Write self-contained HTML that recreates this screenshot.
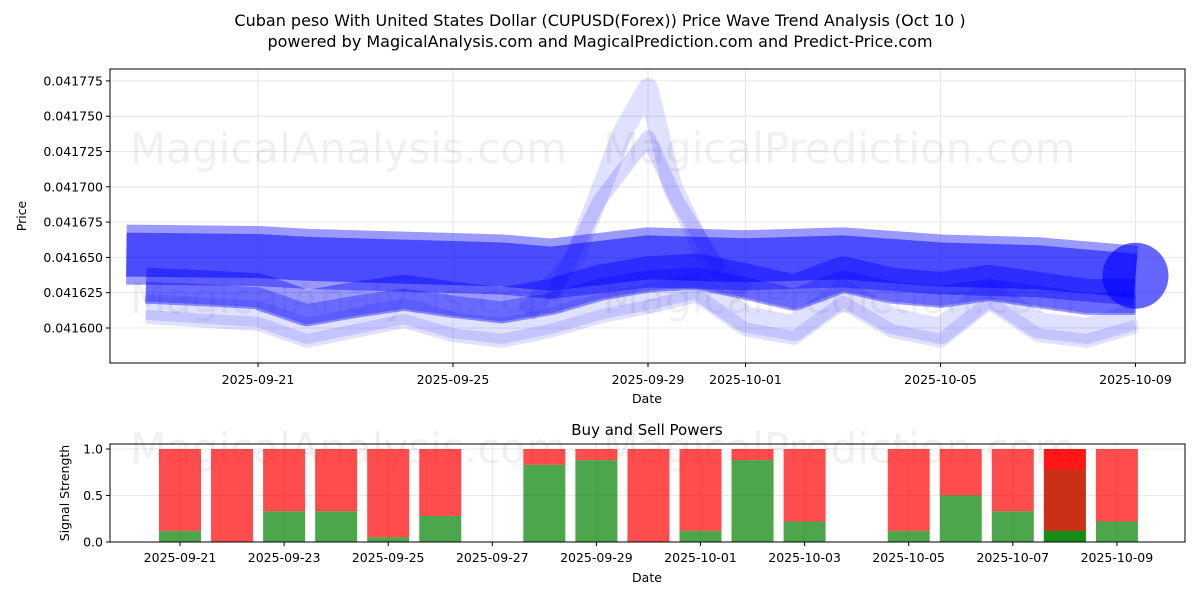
<!DOCTYPE html>
<html><head><meta charset="utf-8"><style>
body{margin:0;background:#fff;}
svg text{font-family:"DejaVu Sans","Liberation Sans",sans-serif;}
</style></head><body>
<svg id="c" width="1200" height="600" xmlns="http://www.w3.org/2000/svg">
<rect width="1200" height="600" fill="#fff"/>
<text x="600" y="26" font-size="16" text-anchor="middle">Cuban peso With United States Dollar (CUPUSD(Forex)) Price Wave Trend Analysis (Oct 10 )</text>
<text x="600" y="47" font-size="16" text-anchor="middle">powered by MagicalAnalysis.com and MagicalPrediction.com and Predict-Price.com</text>
<g id="top"></g>
<g id="bot"></g>
</svg>
<script>
const topTicks=[0.041600,0.041625,0.041650,0.041675,0.041700,0.041725,0.041750,0.041775];
const topDateLabels=['2025-09-21','2025-09-25','2025-09-29','2025-10-01','2025-10-05','2025-10-09'];
const topDateDays=[0,4,8,10,14,18];
const mainDays=[-2.7,0,1,2,4,5,6,8,10,12,14,16,18];
const mainVals=[0.041652,0.041651,0.041649,0.041648,0.041646,0.041645,0.041642,0.041650,0.041648,0.041650,0.041645,0.041643,0.041637];
const lowDays=[-2.3,-1,0,1,2,3,4,5,6,7,8,9,10,11,12,13,14,15,16,17,18];
const lowVals=[0.041630,0.041628,0.041626,0.041614,0.041620,0.041625,0.041620,0.041616,0.041622,0.041632,0.041638,0.041640,0.041633,0.041625,0.041638,0.041630,0.041627,0.041632,0.041627,0.041622,0.041622];
const low2Days=[-2.3,-1,0,1,2,3,4,5,6,7,8,9,10,11,12,13,14,15,16,17,18];
const low2Vals=[0.041615,0.041612,0.041610,0.041598,0.041605,0.041612,0.041602,0.041598,0.041605,0.041615,0.041622,0.041630,0.041606,0.041600,0.041625,0.041605,0.041598,0.041625,0.041602,0.041598,0.041608];
const spikeDays=[5.5,6.5,7.5,8,8.5,9.2,10];
const spikeVals=[0.041610,0.041650,0.041740,0.041770,0.041700,0.041650,0.041625];
const spike2Days=[6,7,8,8.6,9.5];
const spike2Vals=[0.041620,0.041690,0.041735,0.041690,0.041640];
const barDays=[0,1,2,3,4,5,7,8,9,10,11,12,14,15,16,17,18];
const buyVals=[0.12,0,0.33,0.33,0.05,0.28,0.83,0.88,0,0.12,0.88,0.22,0.12,0.5,0.33,0.12,0.22];
const extraBarDays=[17];
const extraBuyVals=[0.78];
const botTicks=[0,0.5,1.0];
const botDateLabels=['2025-09-21','2025-09-23','2025-09-25','2025-09-27','2025-09-29','2025-10-01','2025-10-03','2025-10-05','2025-10-07','2025-10-09'];
const botDateDays=[0,2,4,6,8,10,12,14,16,18];

const NS='http://www.w3.org/2000/svg';
function mk(p,t,a){const e=document.createElementNS(NS,t);for(const k in a)e.setAttribute(k,a[k]);p.appendChild(e);return e;}
const T=document.getElementById('top'),B=document.getElementById('bot');
const tx=d=>258+d*48.75, ty=v=>328-(v-0.0416)*1412000;
const bx=d=>180+d*52.05, by=v=>542-v*93;
topTicks.forEach(v=>{const g=mk(T,'line',{x1:110,x2:1185,y1:ty(v),y2:ty(v),stroke:'#e0e0e0','stroke-width':0.8});

mk(T,'line',{x1:106,x2:110,y1:ty(v),y2:ty(v),stroke:'#000'});
const t=mk(T,'text',{x:103,y:ty(v)+4.5,'font-size':12.5,'text-anchor':'end'});t.textContent=v.toFixed(6);
});
topDateDays.forEach((d,i)=>{mk(T,'line',{x1:tx(d),x2:tx(d),y1:69,y2:363,stroke:'#e0e0e0','stroke-width':0.8});
mk(T,'line',{x1:tx(d),x2:tx(d),y1:363,y2:367,stroke:'#000'});
const t=mk(T,'text',{x:tx(d),y:384,'font-size':12.5,'text-anchor':'middle'});t.textContent=topDateLabels[i];
});
const wm=(p,x,y,s,txt)=>{const t=mk(p,'text',{x,y,'font-size':s,fill:'#000','fill-opacity':0.06});t.textContent=txt;};
wm(T,130,163,42,'MagicalAnalysis.com');wm(T,603,163,42,'MagicalPrediction.com');
wm(T,130,313,42,'MagicalAnalysis.com');wm(T,603,313,42,'MagicalPrediction.com');
const cp=mk(T,'clipPath',{id:'cp'});mk(cp,'rect',{x:110,y:69,width:1075,height:294});
const L=mk(T,'g',{'clip-path':'url(#cp)'});
function line(days,vals,w,op,name,off){const pts=days.map((d,i)=>tx(d)+','+(ty(vals[i])+(off||0))).join(' ');
const e=mk(L,'polyline',{points:pts,fill:'none',stroke:'#0000ff','stroke-width':w,'stroke-opacity':op,'stroke-linejoin':'round'});
}
line(spikeDays,spikeVals,20,0.12,'wave-spike');
line(spike2Days,spike2Vals,14,0.15,'wave-spike-2');
line(low2Days,low2Vals,26,0.12,'wave-low-2');
line(low2Days,low2Vals,14,0.12,'wave-low-2b',10);
line(mainDays,mainVals,60,0.4,'wave-main-outer');
line(mainDays,mainVals,44,0.5,'wave-main');
line(lowDays,lowVals,36,0.4,'wave-low');
line(lowDays,lowVals,20,0.3,'wave-low-b',6);
const c=mk(L,'circle',{cx:tx(18),cy:ty(mainVals[mainVals.length-1]),r:33,fill:'#0000ff','fill-opacity':0.6});

mk(T,'rect',{x:110,y:69,width:1075,height:294,fill:'none',stroke:'#000','stroke-width':1});
let t=mk(T,'text',{x:647,y:403,'font-size':12.5,'text-anchor':'middle'});t.textContent='Date';

t=mk(T,'text',{x:26,y:216,'font-size':12.5,'text-anchor':'middle',transform:'rotate(-90 26 216)'});t.textContent='Price';

botTicks.forEach(v=>{mk(B,'line',{x1:110,x2:1185,y1:by(v),y2:by(v),stroke:'#e0e0e0','stroke-width':0.8});
mk(B,'line',{x1:106,x2:110,y1:by(v),y2:by(v),stroke:'#000'});
const t=mk(B,'text',{x:103,y:by(v)+4.5,'font-size':12.5,'text-anchor':'end'});t.textContent=v.toFixed(1);
});
botDateDays.forEach((d,i)=>{mk(B,'line',{x1:bx(d),x2:bx(d),y1:444,y2:542,stroke:'#e0e0e0','stroke-width':0.8});
mk(B,'line',{x1:bx(d),x2:bx(d),y1:542,y2:546,stroke:'#000'});
const t=mk(B,'text',{x:bx(d),y:562,'font-size':12.5,'text-anchor':'middle'});t.textContent=botDateLabels[i];
});
wm(B,130,463,42,'MagicalAnalysis.com');wm(B,603,463,42,'MagicalPrediction.com');
const allDays=barDays.concat(extraBarDays), allBuy=buyVals.concat(extraBuyVals);
allDays.forEach((d,i)=>{const v=allBuy[i];
const g=mk(B,'rect',{x:bx(d)-21,y:by(v),width:42,height:by(0)-by(v),fill:'green','fill-opacity':0.7});
});
allDays.forEach((d,i)=>{const v=allBuy[i];
const r=mk(B,'rect',{x:bx(d)-21,y:by(1),width:42,height:by(v)-by(1),fill:'red','fill-opacity':0.7});
});
mk(B,'rect',{x:110,y:444,width:1075,height:98,fill:'none',stroke:'#000','stroke-width':1});
t=mk(B,'text',{x:647,y:435,'font-size':15,'text-anchor':'middle'});t.textContent='Buy and Sell Powers';

t=mk(B,'text',{x:647,y:582,'font-size':12.5,'text-anchor':'middle'});t.textContent='Date';

t=mk(B,'text',{x:69,y:493,'font-size':12.5,'text-anchor':'middle',transform:'rotate(-90 69 493)'});t.textContent='Signal Strength';

</script>
</body></html>
